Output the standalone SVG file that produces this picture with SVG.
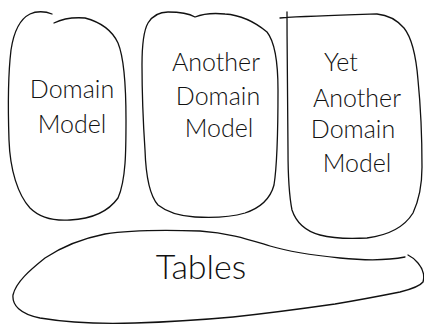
<svg xmlns="http://www.w3.org/2000/svg" width="424" height="325" viewBox="0 0 424 325">
  <style>
    .outline { fill: none; stroke: #111; stroke-width: 1.3; stroke-linecap: round; stroke-linejoin: round; }
    .label { font-family: "Lato", "Open Sans", sans-serif; font-weight: 300; font-size: 25px; fill: #111; text-anchor: middle; }
    .big { font-size: 34px; }
  </style>
  <rect width="424" height="325" fill="#fff"/>

  <g id="domain-model">
    <path class="outline" d="M52,14 C45,11 36,11 30,14 C20,19 14,30 11,50 C8,75 8,110 9,140 C10,170 18,195 30,208 C40,218 55,221 70,220 C90,219 108,212 118,198 C126,180 126,150 126,120 C126,90 125,60 118,43 C112,30 100,22 85,18 C72,17 62,19 54,23"/>
    <text class="label" x="72" y="98">Domain</text>
    <text class="label" x="72" y="133">Model</text>
  </g>

  <g id="another-domain-model">
    <path class="outline" d="M148,23 C153,15 160,12 168,12 C178,12 188,13 195,17 C205,13 215,13 225,14 C240,15 255,22 267,32 C275,42 278,60 278,90 C278,120 278,160 274,185 C270,200 260,208 245,213 C228,218 212,218 195,217 C180,216 168,213 158,205 C150,196 146,180 145,150 C143,120 142,90 142,65 C142,45 144,30 148,23 Z"/>
    <text class="label" x="216" y="71">Another</text>
    <text class="label" x="218" y="105">Domain</text>
    <text class="label" x="219" y="137">Model</text>
  </g>

  <g id="yet-another-domain-model">
    <path class="outline" d="M280,18 C310,16 345,15 377,14 C388,15 397,20 404,28 C412,38 416,55 418,80 C421,110 422,140 422,167 C422,185 419,200 413,213 C405,226 390,235 367,238 C350,239 335,239 320,235 C305,231 296,222 292,210 C289,195 288,175 288,150 C288,110 287,60 287,12"/>
    <text class="label" x="341" y="71">Yet</text>
    <text class="label" x="357" y="107">Another</text>
    <text class="label" x="353" y="138">Domain</text>
    <text class="label" x="357" y="172">Model</text>
  </g>

  <g id="tables">
    <path class="outline" d="M405,257 C390,260 370,261 340,258 C310,255 290,252 270,246 C250,240 230,233 200,231 C170,230 130,230 105,234 C80,239 60,248 45,258 C30,270 16,282 13,295 C12,305 20,314 40,318 C70,323 105,324 135,323 C170,322 200,320 233,317 C270,313 300,309 335,304 C365,299 385,295 400,292 C412,289 420,286 423,282 C425,275 423,269 418,263 C415,259 412,257 408,255"/>
    <text class="label big" x="201" y="279">Tables</text>
  </g>
</svg>
